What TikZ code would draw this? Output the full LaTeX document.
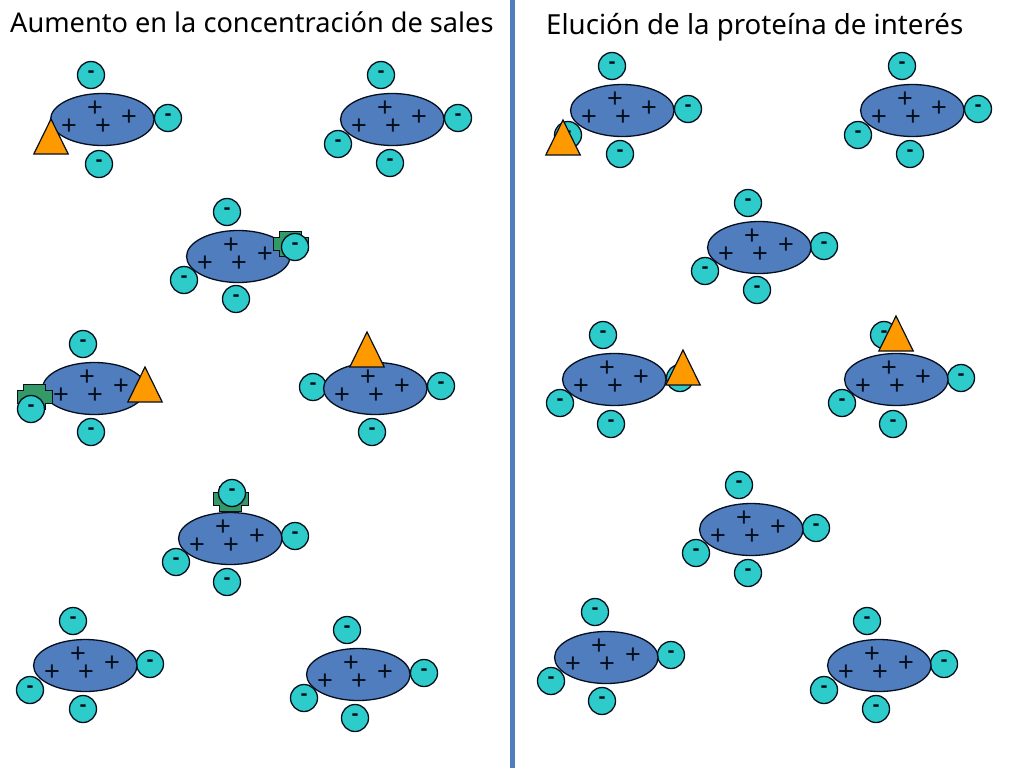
\documentclass[tikz,border=0pt]{standalone}
\usepackage{fontspec}
\setmainfont{Noto Sans}
\newfontfamily\signfont{Liberation Sans}
\definecolor{beadblue}{HTML}{4F7DBE}
\definecolor{iontea}{HTML}{2ECBCB}
\definecolor{triorange}{HTML}{FF9900}
\definecolor{crossgreen}{HTML}{339966}
\definecolor{outl}{HTML}{050F1E}
\newcommand{\beadshape}[3]{%
  \node[beadst] (#1) at (#2+0.3,#3+0.5) {};
  \node[plusst] (#1p1) at (#2-7,#3-10) {+};
  \node[plusst] (#1p2) at (#2-33,#3+8) {+};
  \node[plusst] (#1p3) at (#2+1,#3+8) {+};
  \node[plusst] (#1p4) at (#2+27,#3-1) {+};
}
\newcommand{\ionshape}[3]{\node[ionst] (#1) at (#2,#3) {\raisebox{1.6pt}{-}};}
\newcommand{\trishape}[3]{%
  \draw[tri] (#2,#3) -- ++(-17.2,35) -- ++(34.4,0) -- cycle;
  \coordinate (#1) at (#2,#3);
}
\newcommand{\crossshape}[3]{%
  \draw[cross] (#2-11,#3-12.5) -- ++(22,0) -- ++(0,6) -- ++(6.5,0) -- ++(0,13) -- ++(-6.5,0) -- ++(0,6)
   -- ++(-22,0) -- ++(0,-6) -- ++(-6.5,0) -- ++(0,-13) -- ++(6.5,0) -- cycle;
  \coordinate (#1) at (#2,#3);
}
\usetikzlibrary{shapes.geometric}
\tikzset{
  beadst/.style={ellipse,draw=outl,fill=beadblue,line width=1.3pt,minimum width=103.5pt,minimum height=52pt,inner sep=0pt},
  plusst/.style={inner sep=0pt,font=\signfont\fontsize{27}{27}\selectfont,text=outl},
  ionst/.style={circle,draw=outl,fill=iontea,line width=1.3pt,minimum size=27pt,inner sep=0pt,font=\signfont\bfseries\fontsize{21}{21}\selectfont,text=outl},
  tri/.style={draw=outl,fill=triorange,line width=1.2pt,line join=miter},
  cross/.style={draw=outl,fill=crossgreen,line width=1pt},
  title/.style={inner sep=0pt,anchor=base west,text=black},
}
\begin{document}
\begin{tikzpicture}[x=1pt,y=-1pt]
\useasboundingbox (0,0) rectangle (1024,768);
\fill[white] (0,0) rectangle (1024,768);
\coordinate (divtop) at (512,0);
\coordinate (divbot) at (512,768);
\draw[beadblue,line width=5pt] (divtop) -- (divbot);
\node[title,font=\fontsize{27.15}{30}\selectfont] (tl) at (10,33) {Aumento en la concentración de sales};
\node[title,font=\fontsize{27.65}{30}\selectfont] (tr) at (546,35) {Elución de la proteína de interés};
% left panel
\ionshape{la}{91}{75}\ionshape{lb}{168}{118}\ionshape{lc}{99}{164}
\beadshape{L1}{102}{119}
\trishape{lt1}{51}{119}
\ionshape{ld}{381}{75}\ionshape{le}{458}{118}\ionshape{lf}{390}{163}\ionshape{lg}{338}{144}
\beadshape{L2}{392}{119}
\ionshape{lh}{227}{212}\ionshape{li}{236}{299}\ionshape{lj}{184}{280}
\beadshape{L3}{238}{256}
\crossshape{lx3}{290.5}{243.5}
\ionshape{lk}{295}{247}
\ionshape{ll}{83}{344}\ionshape{lm}{91}{432}
\beadshape{L4}{94}{388}
\crossshape{lx4}{34.5}{396.5}
\ionshape{ln}{31}{409}
\trishape{lt4}{145}{367}
\ionshape{lo}{313}{387}\ionshape{lp}{441}{386}\ionshape{lq}{372}{432}
\beadshape{L5}{375}{388}
\trishape{lt5}{367}{332}
\ionshape{lr}{295}{536}\ionshape{ls}{176}{562}\ionshape{lu}{227}{582}
\beadshape{L6}{230}{538}
\crossshape{lx6}{230.5}{499}
\ionshape{lv}{232}{493}
\ionshape{lw}{73}{621}\ionshape{ly}{150}{664}\ionshape{lz}{83}{709}\ionshape{laa}{30}{690}
\beadshape{L7}{85}{665}
\ionshape{lab}{347}{630}\ionshape{lac}{424}{673}\ionshape{lad}{355}{718}\ionshape{lae}{304}{698}
\beadshape{L8}{358}{674}
% right panel
\ionshape{ra}{612}{66}\ionshape{rb}{688}{109}\ionshape{rc}{620}{154}\ionshape{rd}{568}{135}
\beadshape{R1}{622}{110}
\trishape{rt1}{563}{120}
\ionshape{re}{902}{66}\ionshape{rf}{978}{109}\ionshape{rg}{910}{154}\ionshape{rh}{858}{135}
\beadshape{R2}{912}{110}
\ionshape{ri}{748}{203}\ionshape{rj}{824}{246}\ionshape{rk}{757}{290}\ionshape{rl}{705}{271}
\beadshape{R3}{759}{247}
\ionshape{rm}{603}{335}\ionshape{rn}{680}{378}\ionshape{ro}{611}{424}\ionshape{rp}{560}{403}
\beadshape{R4}{614}{379}
\trishape{rt4}{683}{350}
\ionshape{rq}{884}{335}\ionshape{rr}{961}{378}\ionshape{rs}{893}{424}\ionshape{ru}{842}{403}
\beadshape{R5}{896}{379}
\trishape{rt5}{896}{316}
\ionshape{rv}{739}{485}\ionshape{rw}{816}{528}\ionshape{rx}{748}{573}\ionshape{ry}{696}{553}
\beadshape{R6}{751}{529}
\ionshape{rz}{595}{612}\ionshape{raa}{671}{655}\ionshape{rab}{602}{701}\ionshape{rac}{551}{681}
\beadshape{R7}{606}{657}
\ionshape{rad}{867}{621}\ionshape{rae}{944}{664}\ionshape{raf}{876}{709}\ionshape{rag}{824}{690}
\beadshape{R8}{879}{665}
\end{tikzpicture}
\end{document}
